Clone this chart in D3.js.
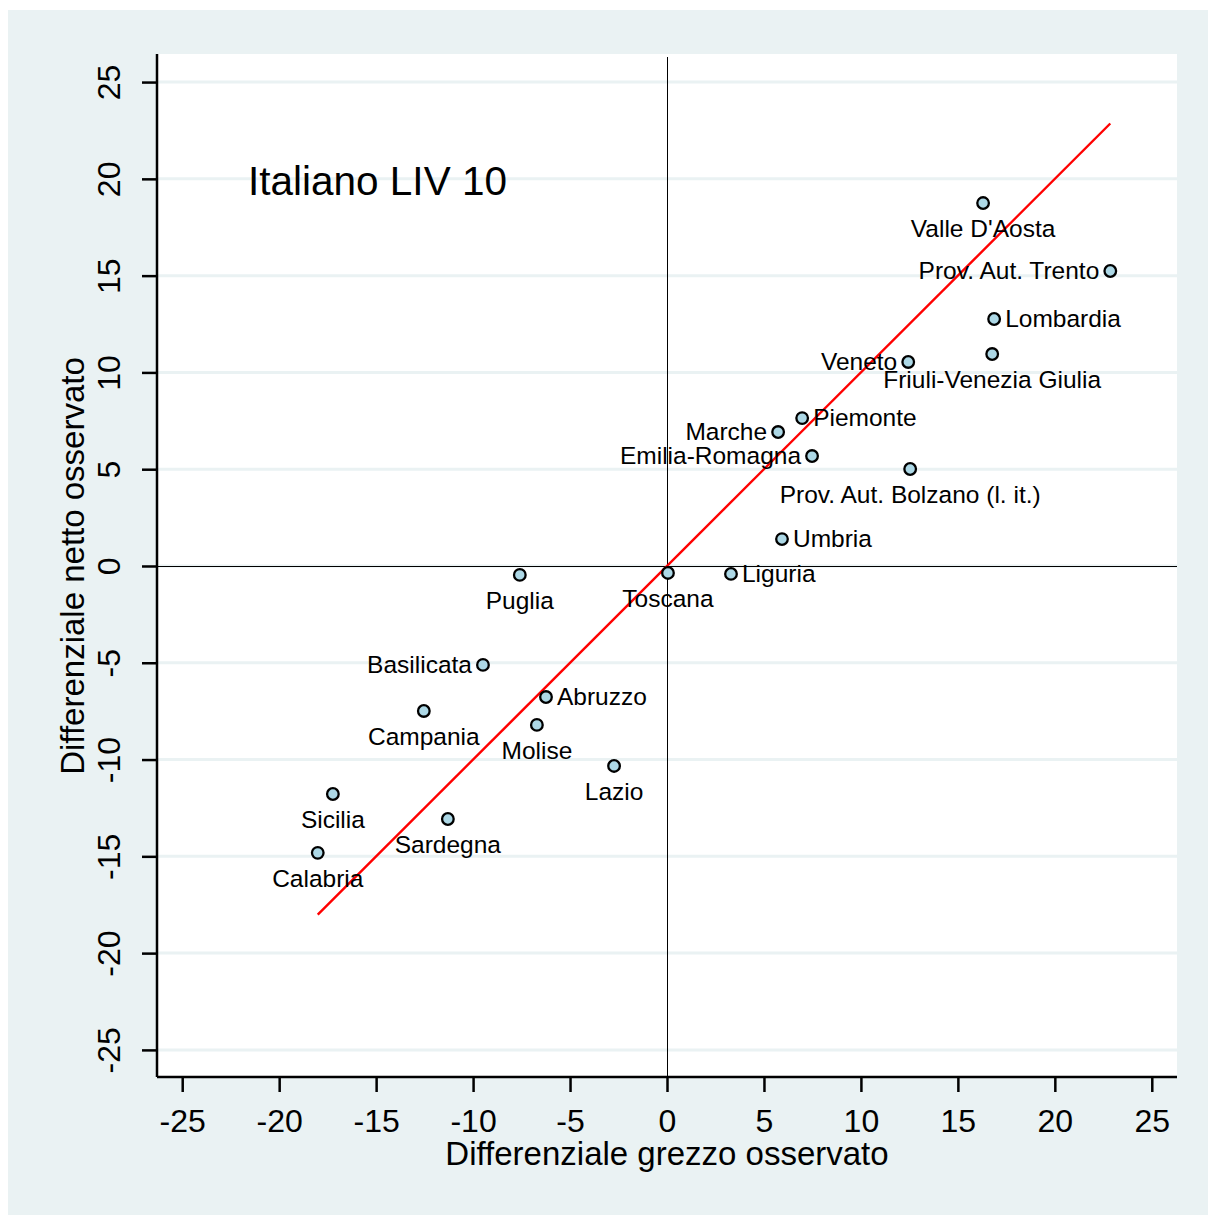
<!DOCTYPE html>
<html>
<head>
<meta charset="utf-8">
<script src="https://cdn.jsdelivr.net/npm/d3@7"></script>
<style>
body{margin:0;background:#fff;}
svg text{font-family:Arial,"Liberation Sans",sans-serif;fill:#000;}
</style>
</head>
<body>
<svg id="chart" width="1210" height="1217"></svg>
<script>
// regioni e valori
var regions = ["Valle D'Aosta","Prov. Aut. Trento","Lombardia","Friuli-Venezia Giulia","Veneto","Piemonte","Marche","Emilia-Romagna","Prov. Aut. Bolzano (l. it.)","Umbria","Liguria","Toscana","Puglia","Basilicata","Abruzzo","Molise","Campania","Lazio","Sicilia","Sardegna","Calabria"]
var grezzo = [16.3, 22.86, 16.87, 16.77, 12.44, 6.97, 5.73, 7.48, 12.54, 5.93, 3.30, 0.05, -7.59, -9.49, -6.24, -6.71, -12.54, -2.73, -17.23, -11.30, -18.01]
var netto  = [18.75, 15.24, 12.76, 10.95, 10.54, 7.64, 6.92, 5.68, 5.01, 1.39, -0.41, -0.36, -0.46, -5.11, -6.77, -8.21, -7.49, -10.33, -11.78, -13.07, -14.82]
// posizione etichetta come in stata (ore dell'orologio)
var labelPos = [6, 9, 3, 6, 9, 3, 9, 9, 6, 3, 3, 6, 6, 9, 3, 6, 6, 6, 6, 6, 6]
var tickVals = [-25, -20, -15, -10, -5, 0, 5, 10, 15, 20, 25]
var title = "Italiano LIV 10"
var xTitle = "Differenziale grezzo osservato"
var yTitle = "Differenziale netto osservato"

var svg = d3.select('#chart')
var L = 157, R = 1177, T = 54, B = 1077

svg.append('rect').attr('x', 8).attr('y', 10).attr('width', 1200).attr('height', 1205).attr('fill', '#eaf2f3')
svg.append('rect').attr('x', L).attr('y', T).attr('width', R - L).attr('height', B - T).attr('fill', '#fff')

var x = d3.scaleLinear().domain([-26.3, 26.3]).range([L, R])
var y = d3.scaleLinear().domain([-26.4, 26.45]).range([B, T])
var fmt = d => String(d)  // trattino normale, non il segno meno unicode

// griglia orizzontale
svg.append('g').selectAll('line').data(tickVals).enter().append('line')
  .attr('x1', L).attr('x2', R)
  .attr('y1', d => y(d)).attr('y2', d => y(d))
  .attr('stroke', '#eaf2f3').attr('stroke-width', 3)

// linee dello zero
var y0 = Math.round(y(0)) + 0.5, x0 = Math.round(x(0)) + 0.5
svg.append('line').attr('x1', L).attr('x2', R).attr('y1', y0).attr('y2', y0).attr('stroke', '#000').attr('stroke-width', 1)
svg.append('line').attr('x1', x0).attr('x2', x0).attr('y1', T + 3).attr('y2', B).attr('stroke', '#000').attr('stroke-width', 1)

// assi
var gx = svg.append('g').attr('transform', 'translate(0,' + B + ')')
  .call(d3.axisBottom(x).tickValues(tickVals).tickFormat(fmt).tickSize(15).tickPadding(17).tickSizeOuter(0))
gx.select('.domain').attr('d', 'M' + L + ',0H' + R).attr('stroke-width', 2.5)
gx.selectAll('.tick line').attr('stroke-width', 2.5)
gx.selectAll('text').style('font-size', '32px').attr('fill', '#000')

var gy = svg.append('g').attr('transform', 'translate(' + L + ',0)')
  .call(d3.axisLeft(y).tickValues(tickVals).tickFormat(fmt).tickSize(15).tickSizeOuter(0))
gy.select('.domain').attr('d', 'M0,' + T + 'V' + B).attr('stroke-width', 2.5)
gy.selectAll('.tick line').attr('stroke-width', 2.5)
gy.selectAll('text').style('font-size', '32px').attr('fill', '#000')
  .attr('x', 0).attr('dy', '0.35em').attr('text-anchor', 'middle')
  .attr('transform', 'translate(-48,0) rotate(-90)')

// titoli assi
svg.append('text').attr('x', x(0)).attr('y', 1165).attr('text-anchor', 'middle').style('font-size', '33px').text(xTitle)
svg.append('text').attr('transform', 'translate(84,' + y(0) + ') rotate(-90)').attr('text-anchor', 'middle').style('font-size', '33px').text(yTitle)

// titolo interno
svg.append('text').attr('x', 248).attr('y', 195).style('font-size', '40.5px').text(title)

// retta y = x
var xr = d3.extent(grezzo)
svg.append('line').attr('x1', x(xr[0])).attr('y1', y(xr[0])).attr('x2', x(xr[1])).attr('y2', y(xr[1]))
  .attr('stroke', '#ff0000').attr('stroke-width', 2.4)

var data = regions.map((r, i) => ({name: r, gx: grezzo[i], ny: netto[i], pos: labelPos[i]}))

svg.append('g').selectAll('circle').data(data).enter().append('circle')
  .attr('cx', d => x(d.gx)).attr('cy', d => y(d.ny)).attr('r', 5.8)
  .attr('fill', '#add8e6').attr('stroke', '#000').attr('stroke-width', 2.3)

svg.append('g').selectAll('text').data(data).enter().append('text')
  .style('font-size', '24.5px')
  .attr('x', d => d.pos == 3 ? x(d.gx) + 11 : d.pos == 9 ? x(d.gx) - 11 : x(d.gx))
  .attr('y', d => d.pos == 6 ? y(d.ny) + 34 : y(d.ny) + 8)
  .attr('text-anchor', d => d.pos == 3 ? 'start' : d.pos == 9 ? 'end' : 'middle')
  .text(d => d.name)
</script>
</body>
</html>
